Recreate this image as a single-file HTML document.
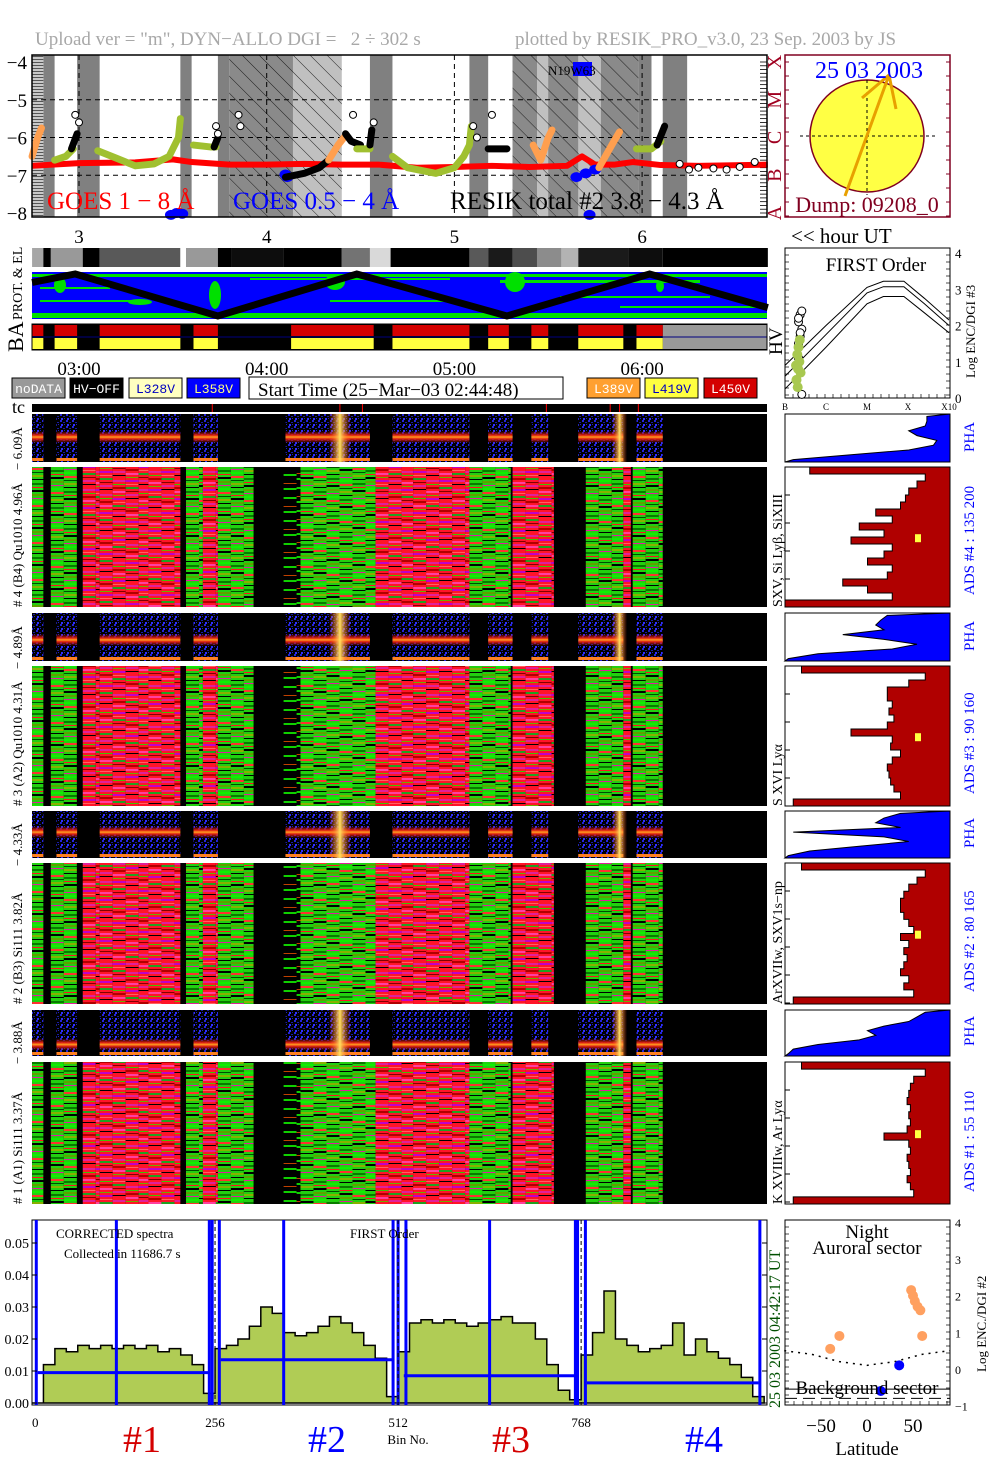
<!DOCTYPE html>
<html><head><meta charset="utf-8"><title>RESIK quicklook</title>
<style>
html,body{margin:0;padding:0;background:#fff;}
svg{display:block;font-family:"Liberation Serif",serif;}
.mono{font-family:"Liberation Mono",monospace;}
</style></head>
<body>
<svg id="root" width="1004" height="1477" viewBox="0 0 1004 1477" xmlns="http://www.w3.org/2000/svg">
<defs id="defs"></defs>
<rect x="0" y="0" width="1004" height="1477" fill="#fff"/>
<text x="35" y="45" font-size="19" fill="#a8a8a8" xml:space="preserve" style="white-space:pre">Upload ver = "m", DYN−ALLO DGI =   2 ÷ 302 s</text>
<text x="515" y="45" font-size="19" fill="#a8a8a8">plotted by RESIK_PRO_v3.0, 23 Sep. 2003 by JS</text>
<g id="goes"></g>
<g id="sun"></g>
<g id="strips"></g>
<g id="legend"></g>
<g id="spec"></g>
<g id="right"></g>
<g id="bottom"></g>
<g id="lat"></g>
</svg>
<script>
// ---------- DATA ----------
const hourTicks = [3,4,5,6];
const hourLabels = ['3','4','5','6'];
const timeLabels = ['03:00','04:00','05:00','06:00'];
const goesYTicks = [-4,-5,-6,-7,-8];
const goesLongH = [2.75,3.0,3.3,3.5,3.6,3.8,4.0,4.2,4.4,4.6,4.8,5.0,5.2,5.4,5.6,5.68,5.75,5.85,5.95,6.1,6.3,6.67];
const goesLongV = [-6.75,-6.68,-6.66,-6.58,-6.65,-6.72,-6.72,-6.7,-6.72,-6.72,-6.8,-6.78,-6.75,-6.78,-6.75,-6.5,-6.72,-6.72,-6.65,-6.73,-6.75,-6.72];
const goesShortH = [3.49,3.52,3.55,4.1,4.11,5.65,5.7,5.75,5.72];
const goesShortV = [-8.05,-8.0,-8.02,-6.98,-7.05,-7.05,-6.95,-6.85,-8.05];
const darkBandsH0 = [2.81,2.99,3.54,3.74,4.55,5.08,5.31,5.50,5.98,6.11];
const darkBandsH1 = [2.87,3.11,3.60,3.80,4.67,5.18,5.44,5.66,6.05,6.24];
const hatchH0 = [3.80,4.14];
const hatchH1 = [4.14,4.40];
const hatch2H0 = [5.31,5.44,5.50,5.66,5.78];
const hatch2H1 = [5.44,5.50,5.66,5.78,5.98];
const resikSegs = [
 {c:'#ff9f4f',h:[2.75,2.78,2.80],v:[-6.5,-6.0,-5.75]},
 {c:'#a0c030',h:[2.87,2.93,2.97],v:[-6.6,-6.5,-6.3]},
 {c:'#000',h:[2.96,2.99],v:[-6.3,-5.9]},
 {c:'#a0c030',h:[3.10,3.20,3.30,3.40,3.48,3.53,3.54],v:[-6.35,-6.55,-6.75,-6.7,-6.5,-6.0,-5.5]},
 {c:'#a0c030',h:[3.61,3.70,3.73],v:[-6.2,-6.25,-6.25]},
 {c:'#000',h:[3.72,3.74],v:[-6.25,-6.0]},
 {c:'#000',h:[4.10,4.20,4.28,4.33],v:[-7.05,-6.95,-6.8,-6.6]},
 {c:'#ff9f4f',h:[4.33,4.38,4.42],v:[-6.6,-6.2,-5.95]},
 {c:'#000',h:[4.42,4.45,4.50],v:[-5.9,-6.1,-6.2]},
 {c:'#a0c030',h:[4.48,4.55],v:[-6.3,-6.3]},
 {c:'#000',h:[4.55,4.56],v:[-6.2,-5.8]},
 {c:'#a0c030',h:[4.67,4.75,4.90,5.00,5.05,5.08,5.09],v:[-6.5,-6.8,-6.95,-6.8,-6.5,-6.2,-5.7]},
 {c:'#000',h:[5.18,5.28],v:[-6.3,-6.3]},
 {c:'#ff9f4f',h:[5.42,5.46,5.50,5.52],v:[-6.2,-6.6,-6.0,-5.8]},
 {c:'#ff9f4f',h:[5.77,5.85,5.88],v:[-6.8,-6.1,-5.85]},
 {c:'#a0c030',h:[5.97,6.05,6.10],v:[-6.3,-6.3,-6.1]},
 {c:'#000',h:[6.08,6.12],v:[-6.2,-5.7]}
];
const circH = [2.98,3.0,3.73,3.74,3.85,3.86,4.46,4.57,5.10,5.12,5.20,6.20,6.25,6.30,6.38,6.45,6.52,6.60];
const circV = [-5.4,-5.6,-5.7,-5.9,-5.4,-5.7,-5.4,-5.6,-5.7,-6.0,-5.4,-6.7,-6.85,-6.8,-6.82,-6.85,-6.78,-6.65];
const grayStripH0 = [2.75,2.81,2.85,3.02,3.11,3.54,3.57,3.74,3.81,4.09,4.40,4.55,4.66,5.08,5.18,5.31,5.44,5.57,5.66,5.93,6.11];
const grayStripH1 = [2.81,2.85,3.02,3.11,3.54,3.57,3.74,3.81,4.09,4.40,4.55,4.66,5.08,5.18,5.31,5.44,5.57,5.66,5.93,6.11,6.67];
const grayStripV = [0.65,0,0.6,0,0.35,1,0.6,0,0.05,0,0.45,0.85,0,0.35,0.1,0.3,0.55,0.7,0.1,0.05,0];
const orbitH = [2.75,2.98,3.74,4.48,5.28,6.04,6.67];
const orbitY = [0.2,0.0,1.0,0.0,1.0,0.0,0.8];
const baH0 = [2.75,2.87,3.11,3.61,4.13,4.67,5.18,5.41,5.66,5.97];
const baH1 = [2.81,2.99,3.54,3.74,4.57,5.08,5.29,5.50,5.90,6.11];
const tcH = [3.71,4.39,4.51,5.49,5.83,5.88,5.98];
const mainSegH0 = [2.75,2.85,3.02,3.11,3.37,3.57,3.66,3.74,4.09,4.18,4.58,4.78,5.08,5.31,5.70,5.90,5.95];
const mainSegH1 = [2.81,2.99,3.11,3.37,3.54,3.66,3.74,3.93,4.18,4.58,4.78,5.08,5.30,5.53,5.90,5.94,6.11];
const mainSegT = ['g','g','r','r','r','g','r','g','s','g','r','r','g','r','g','r','g'];
const phaSegH0 = [2.75,2.88,3.11,3.61,4.10,4.67,5.18,5.41,5.66,5.97];
const phaSegH1 = [2.81,2.99,3.54,3.74,4.55,5.08,5.31,5.50,5.90,6.11];
const phaBand = [0.48,0.56,0.45,0.75];
const panelTops = [414,613,811,1010];
const mainTops = [467,666,863,1062];
const mainBots = [607,806,1004,1204];
const phaBots = [462,661,858,1056];
const rightPha = [
 [0.86,0.86,0.85,0.75,0.80,0.92,0.90,0.75,0.40,0.05],
 [0.62,0.58,0.55,0.60,0.35,0.60,0.80,0.65,0.20,0.02],
 [0.70,0.60,0.55,0.70,0.05,0.60,0.75,0.45,0.15,0.02],
 [0.85,0.80,0.75,0.60,0.50,0.55,0.45,0.20,0.05,0.02]];
const rightMain = [
 [0.15,0.85,0.80,0.75,0.73,0.70,0.55,0.65,0.45,0.60,0.40,0.65,0.60,0.50,0.65,0.62,0.35,0.50,0.65,0.0],
 [0.10,0.85,0.75,0.62,0.62,0.65,0.63,0.66,0.62,0.40,0.65,0.64,0.70,0.65,0.62,0.63,0.64,0.66,0.70,0.05],
 [0.10,0.85,0.80,0.75,0.72,0.70,0.70,0.72,0.75,0.78,0.70,0.75,0.72,0.74,0.72,0.70,0.75,0.72,0.78,0.05],
 [0.10,0.85,0.78,0.76,0.75,0.74,0.76,0.75,0.76,0.74,0.60,0.75,0.76,0.74,0.75,0.76,0.74,0.76,0.78,0.05]];
const hvX = [0,1.0,2.0,2.4,2.9,3.4,4.0];
const hvTop = [0.9,2.0,3.05,3.22,3.22,2.75,2.15];
const hvMid = [0.6,1.75,2.9,3.07,3.07,2.6,2.0];
const hvBot = [0.25,1.4,2.6,2.8,2.8,2.35,1.8];
const hvPtsX = [0.28,0.32,0.35,0.3,0.38,0.33,0.27,0.36,0.31];
const hvPtsY = [0.5,0.8,1.0,1.2,0.7,1.4,0.9,1.6,0.3];
const hvCircY = [1.5,1.7,1.9,2.1,2.3,2.4,2.2,1.8,0.1,1.1];
const specCh = [
 [0.0,0.012,0.017,0.016,0.018,0.017,0.018,0.017,0.018,0.017,0.018,0.016,0.017,0.015,0.012,0.003],
 [0.017,0.018,0.020,0.024,0.030,0.028,0.022,0.021,0.022,0.024,0.027,0.025,0.022,0.018,0.014,0.002],
 [0.016,0.025,0.026,0.025,0.026,0.025,0.024,0.025,0.026,0.027,0.025,0.025,0.020,0.012,0.004,0.001],
 [0.015,0.022,0.035,0.020,0.018,0.016,0.017,0.018,0.025,0.015,0.020,0.016,0.014,0.012,0.008,0.002]];
const blueLevel = [0.0095,0.0135,0.0085,0.0063];
const blueSpikes = [6,118,248,252,262,352,505,512,523,640,760,763,774,1018];
const binTicks = [0,256,512,768];
const specYTicks = [0,0.01,0.02,0.03,0.04,0.05];
const specYLabels = ['0.00','0.01','0.02','0.03','0.04','0.05'];
const latOrX = [-40,-30,48,50,52,55,58,60];
const latOrY = [0.55,0.9,2.15,2.0,1.85,1.7,1.6,0.9];
const latBlX = [35,15];
const latBlY = [0.1,-0.6];
const latCurveX = [-90,-60,-30,0,30,60,90];
const latCurveY = [0.5,0.4,0.2,0.1,0.2,0.4,0.5];

// ---------- HELPERS ----------
const NS='http://www.w3.org/2000/svg';
const X = h => 79 + (h-3)*187.7;
const GY = v => 62 + (-4-v)*37.75;
function add(parent, tag, attrs, name, txt){
  const el=document.createElementNS(NS,tag);
  for(const k in attrs) el.setAttribute(k,attrs[k]);
  
  
  if(txt!==undefined) el.textContent=txt;
  parent.appendChild(el);
  return el;
}
const $=id=>document.getElementById(id);
const defs=$('defs');

defs.innerHTML = `
<pattern id="hatch" width="12" height="12" patternUnits="userSpaceOnUse" patternTransform="rotate(-45)"><line x1="0" y1="0" x2="0" y2="12" stroke="#000" stroke-width="0.8"/></pattern>
<pattern id="hstripe" width="4" height="3" patternUnits="userSpaceOnUse"><rect width="4" height="3" fill="#c8c8c8"/><rect y="2" width="4" height="1" fill="#555"/></pattern>
` + [0,1,2,3,4].map(i=>`
<pattern id="pr${i}" width="10" height="41" patternUnits="userSpaceOnUse" patternTransform="translate(0,${i*9})">
<rect width="10" height="41" fill="#ff1428"/><rect y="2" width="10" height="2" fill="#e0209a"/><rect y="6" width="10" height="1" fill="#40c000"/><rect y="9" width="10" height="2" fill="#b00000"/><rect y="13" width="10" height="2" fill="#ff3fa0"/><rect y="17" width="10" height="1" fill="#70a800"/><rect y="20" width="10" height="2" fill="#c000c8"/><rect y="24" width="10" height="1" fill="#ff6060"/><rect y="27" width="10" height="2" fill="#20a020"/><rect y="31" width="10" height="1" fill="#800000"/><rect y="34" width="10" height="2" fill="#e0209a"/><rect y="38" width="10" height="1" fill="#000"/></pattern>
<pattern id="pg${i}" width="10" height="37" patternUnits="userSpaceOnUse" patternTransform="translate(0,${i*8})">
<rect width="10" height="37" fill="#22d010"/><rect y="2" width="10" height="2" fill="#0a7a00"/><rect y="6" width="10" height="1" fill="#ff1020"/><rect y="9" width="10" height="2" fill="#000"/><rect y="13" width="10" height="2" fill="#60a000"/><rect y="17" width="10" height="1" fill="#e0209a"/><rect y="20" width="10" height="2" fill="#10f000"/><rect y="24" width="10" height="2" fill="#ff3030"/><rect y="28" width="10" height="1" fill="#004d00"/><rect y="31" width="10" height="2" fill="#88b000"/><rect y="35" width="10" height="1" fill="#000"/></pattern>
<pattern id="ps${i}" width="10" height="23" patternUnits="userSpaceOnUse" patternTransform="translate(0,${i*5})">
<rect width="10" height="23" fill="#000"/><rect y="4" width="10" height="2" fill="#10d000"/><rect y="13" width="10" height="1" fill="#c04000"/><rect y="18" width="10" height="2" fill="#10d000"/></pattern>`).join('') + `
<pattern id="pha" width="6" height="6" patternUnits="userSpaceOnUse"><rect width="6" height="6" fill="#000"/><rect x="0" y="0" width="2" height="2" fill="#2424d8"/><rect x="3" y="2" width="2" height="1" fill="#1a1aa0"/><rect x="1" y="4" width="2" height="2" fill="#3030ff"/><rect x="4" y="4" width="1" height="1" fill="#2020c0"/></pattern>
<linearGradient id="band" x1="0" y1="0" x2="0" y2="1"><stop offset="0" stop-color="#c01010" stop-opacity="0"/><stop offset="0.35" stop-color="#e02010"/><stop offset="0.5" stop-color="#ffa020"/><stop offset="0.65" stop-color="#e02010"/><stop offset="1" stop-color="#c01010" stop-opacity="0"/></linearGradient>
<linearGradient id="flare" x1="0" y1="0" x2="1" y2="0"><stop offset="0" stop-color="#ff4010" stop-opacity="0"/><stop offset="0.5" stop-color="#ffe060"/><stop offset="1" stop-color="#ff4010" stop-opacity="0"/></linearGradient>`;

// ---------- GOES PANEL ----------
(function(){
  const g=$('goes');
  const L=32,R=767,T=55,B=217;
  for(let i=0;i<darkBandsH0.length;i++){
    add(g,'rect',{x:X(darkBandsH0[i]),y:T,width:X(darkBandsH1[i])-X(darkBandsH0[i]),height:B-T,fill:'#808080'},'hv-off-band');
  }
  add(g,'rect',{x:L,y:T,width:X(2.81)-L,height:B-T,fill:'url(#hstripe)'},'nodata-band');
  for(let i=0;i<hatchH0.length;i++){
    add(g,'rect',{x:X(hatchH0[i]),y:T,width:X(hatchH1[i])-X(hatchH0[i]),height:B-T,fill:i==0?'#8a8a8a':'#c0c0c0'},'saa-band');
  }
  for(let i=0;i<hatch2H0.length;i++){
    add(g,'rect',{x:X(hatch2H0[i]),y:T,width:X(hatch2H1[i])-X(hatch2H0[i]),height:B-T,fill:i%2?'#c0c0c0':'#8a8a8a'},'saa-band');
  }
  add(g,'rect',{x:X(3.80),y:T,width:X(4.40)-X(3.80),height:B-T,fill:'url(#hatch)'},'hatch-area');
  add(g,'rect',{x:X(5.31),y:T,width:X(5.98)-X(5.31),height:B-T,fill:'url(#hatch)'},'hatch-area');
  hourTicks.forEach(h=>add(g,'line',{x1:X(h),x2:X(h),y1:T,y2:B,stroke:'#000','stroke-dasharray':'5,4','stroke-width':1},'x-grid-line'));
  [-5,-6,-7].forEach(v=>add(g,'line',{x1:L,x2:R,y1:GY(v),y2:GY(v),stroke:'#000','stroke-dasharray':'5,4','stroke-width':1},'y-grid-line'));
  goesYTicks.forEach(v=>add(g,'text',{x:27,y:GY(v)+7,'font-size':19,'text-anchor':'end'},'y-tick-label',String(v).replace('-','−')));
  for(let v=-8;v<=-4;v+=0.1){add(g,'line',{x1:R-7,x2:R,y1:GY(v),y2:GY(v),stroke:'#000','stroke-width':0.8},'y-minor-tick');}
  add(g,'polyline',{points:goesLongH.map((h,i)=>X(h)+','+GY(goesLongV[i])).join(' '),fill:'none',stroke:'#ff0000','stroke-width':6,'stroke-linejoin':'round'},'goes-1-8-line');
  goesShortH.forEach((h,i)=>add(g,'ellipse',{cx:X(h),cy:GY(goesShortV[i]),rx:6,ry:5,fill:'#0000ff'},'goes-05-4-point'));
  resikSegs.forEach(s=>{
    add(g,'polyline',{points:s.h.map((h,i)=>X(h)+','+GY(s.v[i])).join(' '),fill:'none',stroke:s.c,'stroke-width':7,'stroke-linejoin':'round','stroke-linecap':'round'},'resik-total-segment');
  });
  circH.forEach((h,i)=>add(g,'circle',{cx:X(h),cy:GY(circV[i]),r:3.5,fill:'#fff',stroke:'#000','stroke-width':1},'resik-circle'));
  add(g,'rect',{x:L,y:T,width:R-L,height:B-T,fill:'none',stroke:'#000','stroke-width':1.5},'goes-frame');
  add(g,'rect',{x:573,y:62,width:19,height:14,fill:'#0000ff'},'active-region-box');
  add(g,'text',{x:548,y:75,'font-size':13},'active-region-label','N19W63');
  add(g,'text',{x:47,y:209,'font-size':25,fill:'#ff0000'},'goes-long-label','GOES 1 − 8 Å');
  add(g,'text',{x:233,y:209,'font-size':25,fill:'#0000ff'},'goes-short-label','GOES 0.5 − 4 Å');
  add(g,'text',{x:450,y:209,'font-size':25,fill:'#000'},'resik-total-label','RESIK total #2  3.8 − 4.3 Å');
  ['A','B','C','M','X'].forEach((c,i)=>{
    const yy=GY(-8+i);
    add(g,'text',{x:0,y:0,'font-size':20,fill:'#a00020',transform:`translate(781,${yy}) rotate(-90)`,'text-anchor':'middle'},'goes-class-label',c);
  });
  hourTicks.forEach((h,i)=>add(g,'text',{x:X(h),y:243,'font-size':19,'text-anchor':'middle'},'hour-label',hourLabels[i]));
  add(g,'text',{x:791,y:243,'font-size':21},'hour-ut-label','<< hour UT');
})();

// ---------- SUN ----------
(function(){
  const g=$('sun');
  add(g,'rect',{x:785,y:55,width:165,height:162,fill:'#fff',stroke:'#800020','stroke-width':1.5},'sun-frame');
  for(let y=62;y<217;y+=14){add(g,'line',{x1:785,x2:789,y1:y,y2:y,stroke:'#800020'},'sun-tick');add(g,'line',{x1:946,x2:950,y1:y,y2:y,stroke:'#800020'},'sun-tick');}
  add(g,'ellipse',{cx:867,cy:136,rx:57,ry:56,fill:'#ffff44',stroke:'#800020','stroke-width':1.5},'solar-disk');
  add(g,'line',{x1:800,x2:935,y1:136,y2:136,stroke:'#000','stroke-dasharray':'3,3'},'sun-crosshair-h');
  add(g,'line',{x1:867,x2:867,y1:80,y2:195,stroke:'#000','stroke-dasharray':'3,3'},'sun-crosshair-v');
  [[845,196,889,75],[889,75,862,98],[889,75,896,109]].forEach(p=>add(g,'line',{x1:p[0],y1:p[1],x2:p[2],y2:p[3],stroke:'#e8a000','stroke-width':3},'track-line'));
  add(g,'text',{x:869,y:78,'font-size':24,fill:'#0000ff','text-anchor':'middle'},'sun-date','25 03 2003');
  add(g,'text',{x:867,y:212,'font-size':22,fill:'#800020','text-anchor':'middle'},'dump-label','Dump: 09208_0');
})();

// ---------- STRIPS ----------
(function(){
  const g=$('strips');
  for(let i=0;i<grayStripH0.length;i++){
    const v=Math.round(grayStripV[i]*255);
    add(g,'rect',{x:X(grayStripH0[i]),y:248,width:X(grayStripH1[i])-X(grayStripH0[i]),height:19,fill:`rgb(${v},${v},${v})`},'elevation-strip-segment');
  }
  add(g,'rect',{x:32,y:272,width:735,height:47,fill:'#0000ff'},'prot-el-strip');
  [[32,274,735,3],[32,313,735,5],[40,287,70,2],[250,278,200,2],[500,280,200,3],[560,296,150,2],[330,300,120,2],[620,306,140,2],[40,300,100,2]].forEach(r=>add(g,'rect',{x:r[0],y:r[1],width:r[2],height:r[3],fill:'#00e000'},'particle-band'));
  [[60,285,6,8],[140,302,12,3],[215,295,6,14],[335,282,10,8],[515,282,10,10],[660,286,4,6]].forEach(r=>add(g,'ellipse',{cx:r[0],cy:r[1],rx:r[2],ry:r[3],fill:'#00e000'},'particle-blob'));
  add(g,'polyline',{points:orbitH.map((h,i)=>X(h)+','+(274+orbitY[i]*42)).join(' '),fill:'none',stroke:'#000','stroke-width':7},'orbit-track');
  add(g,'text',{x:0,y:0,'font-size':14,transform:'translate(22,320) rotate(-90)'},'prot-el-label','PROT. & EL');
  add(g,'rect',{x:32,y:324,width:735,height:26,fill:'#000'},'ba-strip');
  add(g,'rect',{x:X(6.11),y:325,width:767-X(6.11),height:24,fill:'#999'},'ba-nodata');
  for(let i=0;i<baH0.length;i++){
    const x=X(baH0[i]),w=X(baH1[i])-X(baH0[i]);
    add(g,'rect',{x:x,y:325,width:w,height:11,fill:'#d40000'},'ba-red-segment');
    add(g,'rect',{x:x,y:338,width:w,height:11,fill:'#ffff40'},'ba-yellow-segment');
  }
  add(g,'line',{x1:32,x2:767,y1:337,y2:337,stroke:'#000080','stroke-width':1},'ba-divider');
  add(g,'rect',{x:32,y:324,width:735,height:26,fill:'none',stroke:'#000'},'ba-frame');
  add(g,'text',{x:0,y:0,'font-size':22,transform:'translate(23,352) rotate(-90)'},'ba-label','BA');
  hourTicks.forEach((h,i)=>add(g,'text',{x:X(h),y:375,'font-size':19,'text-anchor':'middle'},'time-label',timeLabels[i]));
})();

// ---------- LEGEND ----------
(function(){
  const g=$('legend');
  const items=[[12,'#999','#fff','noDATA'],[70,'#000','#fff','HV−OFF'],[129,'#ffffc0','#0000c0','L328V'],[187,'#0000ff','#ffff80','L358V'],[587,'#ffa030','#fff','L389V'],[645,'#ffff40','#0000c0','L419V'],[704,'#d40000','#fff','L450V']];
  items.forEach(it=>{
    add(g,'rect',{x:it[0],y:378,width:53,height:20,fill:it[1],stroke:'#000'},'legend-box');
    add(g,'text',{x:it[0]+26.5,y:393,'font-size':13,fill:it[2],'text-anchor':'middle',class:'mono'},'legend-label',it[3]);
  });
  add(g,'rect',{x:249,y:377,width:314,height:22,fill:'#fff',stroke:'#000'},'start-time-box');
  add(g,'text',{x:258,y:396,'font-size':19},'start-time-label','Start Time (25−Mar−03 02:44:48)');
  add(g,'text',{x:12,y:413,'font-size':18},'tc-label','tc');
  add(g,'rect',{x:32,y:404,width:735,height:8,fill:'#000'},'tc-strip');
  tcH.forEach(h=>add(g,'line',{x1:X(h),x2:X(h),y1:404,y2:412,stroke:'#ff0000','stroke-width':1},'tc-mark'));
})();

// ---------- SPECTROGRAMS ----------
(function(){
  const g=$('spec');
  const leftLabels=['# 4 (B4) Qu1010 4.96Å','# 3 (A2) Qu1010 4.31Å','# 2 (B3) Si111 3.82Å','# 1 (A1) Si111 3.37Å'];
  const phaLabels=['− 6.09Å','− 4.89Å','− 4.33Å','− 3.88Å'];
  const rightLabels=['SXV, Si Lyβ, SiXIII','S XVI Lyα','ArXVIIw, SXV1s−np','K XVIIIw, Ar Lyα'];
  for(let p=0;p<4;p++){
    const t=panelTops[p],pb=phaBots[p];
    add(g,'rect',{x:32,y:t,width:735,height:pb-t,fill:'#000'},'pha-panel');
    for(let i=0;i<phaSegH0.length;i++){
      const x=X(phaSegH0[i]),w=X(phaSegH1[i])-x;
      add(g,'rect',{x:x,y:t,width:w,height:pb-t,fill:'url(#pha)'},'pha-segment');
      const by=t+(pb-t)*phaBand[p];
      add(g,'rect',{x:x,y:by-6,width:w,height:12,fill:'url(#band)'},'pha-line-band');
      add(g,'rect',{x:x,y:pb-4,width:w,height:3,fill:'#ff8020'},'pha-bottom-edge');
    }
    add(g,'rect',{x:X(4.33),y:t,width:X(4.45)-X(4.33),height:pb-t,fill:'url(#flare)'},'pha-flare');
    add(g,'rect',{x:X(5.84),y:t,width:X(5.92)-X(5.84),height:pb-t,fill:'url(#flare)'},'pha-flare');
    const mt=mainTops[p],mb=mainBots[p];
    add(g,'rect',{x:32,y:mt,width:735,height:mb-mt,fill:'#000'},'main-spectrogram');
    let col=0;
    for(let i=0;i<mainSegH0.length;i++){
      const x0=X(mainSegH0[i]),x1=X(mainSegH1[i]);
      for(let x=x0;x<x1-0.5;x+=13){
        const w=Math.min(13,x1-x);
        const pid='p'+mainSegT[i]+((col*3+p)%5);
        add(g,'rect',{x:x,y:mt,width:w,height:mb-mt,fill:`url(#${pid})`},'spectrogram-column');
        col++;
      }
    }
    add(g,'text',{x:0,y:0,'font-size':13,transform:`translate(22,${mb}) rotate(-90)`},'detector-label',leftLabels[p]);
    add(g,'text',{x:0,y:0,'font-size':13,transform:`translate(22,${pb+8}) rotate(-90)`},'pha-range-label',phaLabels[p]);
    add(g,'text',{x:0,y:0,'font-size':14,transform:`translate(782,${mb}) rotate(-90)`},'line-id-label',rightLabels[p]);
  }
})();

// ---------- RIGHT PANELS ----------
(function(){
  const g=$('right');
  const L=785,R=950,T=248,B=398;
  const hx=u=>L+u*41, hy=v=>B-v*36.25;
  add(g,'rect',{x:L,y:T,width:R-L,height:B-T,fill:'#fff',stroke:'#000'},'hv-plot-frame');
  for(let y=T;y<B;y+=7){add(g,'line',{x1:L,x2:L+4,y1:y,y2:y,stroke:'#000','stroke-width':0.7},'hv-tick');add(g,'line',{x1:R-4,x2:R,y1:y,y2:y,stroke:'#000','stroke-width':0.7},'hv-tick');}
  for(let x=L;x<R;x+=8){add(g,'line',{x1:x,x2:x,y1:B-4,y2:B,stroke:'#000','stroke-width':0.7},'hv-tick');}
  [hvTop,hvMid,hvBot].forEach(c=>add(g,'polyline',{points:hvX.map((u,i)=>hx(u)+','+hy(c[i])).join(' '),fill:'none',stroke:'#000','stroke-width':1},'hv-model-curve'));
  hvCircY.forEach((v,i)=>add(g,'circle',{cx:hx(0.33+(i%3)*0.04),cy:hy(v),r:4,fill:'#fff',stroke:'#000'},'hv-circle'));
  hvPtsX.forEach((u,i)=>add(g,'circle',{cx:hx(u),cy:hy(hvPtsY[i]),r:5,fill:'#a8c850'},'hv-point'));
  add(g,'text',{x:876,y:271,'font-size':19,'text-anchor':'middle'},'hv-title','FIRST Order');
  ['0','1','2','3','4'].forEach((s,i)=>add(g,'text',{x:955,y:hy(i)+5,'font-size':13},'hv-y-label',s));
  ['B','C','M','X','X10'].forEach((s,i)=>add(g,'text',{x:hx(i),y:410,'font-size':9,'text-anchor':'middle'},'hv-x-label',s));
  add(g,'text',{x:0,y:0,'font-size':13,transform:'translate(975,378) rotate(-90)'},'hv-y-title','Log ENC/DGI #3');
  add(g,'text',{x:0,y:0,'font-size':19,transform:'translate(782,355) rotate(-90)'},'hv-label','HV');
  const adsLabels=['ADS #4 :  135 200','ADS #3 :  90 160','ADS #2 :  80 165','ADS #1 :  55 110'];
  for(let p=0;p<4;p++){
    const t=panelTops[p],b=phaBots[p],w=R-L;
    add(g,'rect',{x:L,y:t,width:w,height:b-t,fill:'#fff',stroke:'#000'},'right-pha-frame');
    const pr=rightPha[p],n=pr.length;
    let pts=[`${R},${t}`];
    pr.forEach((f,i)=>{pts.push(`${L+f*w},${t+(i+0.5)*(b-t)/n}`);});
    pts.push(`${L},${b}`,`${R},${b}`);
    add(g,'polygon',{points:pts.join(' '),fill:'#0000ff',stroke:'#000','stroke-width':1},'pha-profile');
    add(g,'text',{x:0,y:0,'font-size':15,fill:'#0000ff',transform:`translate(974,${b-10}) rotate(-90)`},'pha-label','PHA');
    const mt=mainTops[p],mb=mainBots[p];
    add(g,'rect',{x:L,y:mt,width:w,height:mb-mt,fill:'#fff',stroke:'#000'},'right-spectrum-frame');
    const mr=rightMain[p],m=mr.length;
    let q=[`${R},${mt}`];
    mr.forEach((f,i)=>{const y0=mt+i*(mb-mt)/m,y1=mt+(i+1)*(mb-mt)/m;q.push(`${L+f*w},${y0}`,`${L+f*w},${y1}`);});
    q.push(`${R},${mb}`);
    add(g,'polygon',{points:q.join(' '),fill:'#b00000',stroke:'#000','stroke-width':1},'spectrum-profile');
    add(g,'rect',{x:915,y:mt+(mb-mt)*0.48,width:6,height:8,fill:'#ffff40'},'spectrum-marker');
    for(let y=mt;y<mb;y+=28){add(g,'line',{x1:L,x2:L+5,y1:y,y2:y,stroke:'#000'},'spectrum-tick');}
    add(g,'text',{x:0,y:0,'font-size':15,fill:'#0000ff',transform:`translate(974,${mb-12}) rotate(-90)`},'ads-label',adsLabels[p]);
  }
})();

// ---------- BOTTOM SPECTRUM ----------
(function(){
  const g=$('bottom');
  const L=32,R=767,T=1220,B=1405;
  const bx=b=>32+b*0.715, by=v=>1403-v*3200;
  add(g,'rect',{x:L,y:T,width:R-L,height:B-T,fill:'#fff',stroke:'#000'},'bottom-frame');
  let pts=[`${bx(0)},${by(0)}`];
  specCh.forEach((ch,c)=>ch.forEach((v,i)=>{const b0=c*256+i*16;pts.push(`${bx(b0)},${by(v)}`,`${bx(b0+16)},${by(v)}`);}));
  pts.push(`${bx(1024)},${by(0)}`);
  add(g,'polygon',{points:pts.join(' '),fill:'#b0cc55',stroke:'#000','stroke-width':1.5},'corrected-spectrum');
  blueLevel.forEach((v,c)=>add(g,'line',{x1:bx(c*256+8),x2:bx(c*256+248),y1:by(v),y2:by(v),stroke:'#0000ff','stroke-width':3},'background-spectrum'));
  blueSpikes.forEach(b=>add(g,'line',{x1:bx(b),x2:bx(b),y1:T,y2:B,stroke:'#0000ff','stroke-width':3},'background-spike'));
  [256,512,768].forEach(b=>add(g,'line',{x1:bx(b),x2:bx(b),y1:T,y2:B,stroke:'#000','stroke-dasharray':'4,3'},'channel-boundary'));
  specYTicks.forEach((v,i)=>{add(g,'text',{x:29,y:by(v)+5,'font-size':14,'text-anchor':'end'},'y-tick-label',specYLabels[i]);add(g,'line',{x1:L,x2:L+5,y1:by(v),y2:by(v),stroke:'#000'},'y-tick');add(g,'line',{x1:R-5,x2:R,y1:by(v),y2:by(v),stroke:'#000'},'y-tick');});
  binTicks.forEach(b=>add(g,'text',{x:bx(b),y:1427,'font-size':13,'text-anchor':b?'middle':'start'},'bin-tick-label',String(b)));
  add(g,'text',{x:408,y:1444,'font-size':13,'text-anchor':'middle'},'x-axis-title','Bin No.');
  add(g,'text',{x:56,y:1238,'font-size':13},'corrected-label','CORRECTED spectra');
  add(g,'text',{x:64,y:1258,'font-size':13},'collected-label','Collected in 11686.7 s');
  add(g,'text',{x:350,y:1238,'font-size':13},'first-order-label','FIRST Order');
  [['#1',142,'#d40000'],['#2',327,'#0000ff'],['#3',511,'#d40000'],['#4',704,'#0000ff']].forEach(a=>add(g,'text',{x:a[1],y:1452,'font-size':38,fill:a[2],'text-anchor':'middle'},'channel-number',a[0]));
  add(g,'text',{x:0,y:0,'font-size':16,fill:'#005000',transform:'translate(780,1408) rotate(-90)'},'timestamp-label','25 03 2003   04:42:17 UT');
})();

// ---------- LATITUDE ----------
(function(){
  const g=$('lat');
  const L=785,R=950,T=1220,B=1405;
  const lx=d=>867+d*0.92, ly=v=>1369-v*36.7;
  add(g,'rect',{x:L,y:T,width:R-L,height:B-T,fill:'#fff',stroke:'#000'},'lat-frame');
  for(let y=T;y<B;y+=7){add(g,'line',{x1:R-4,x2:R,y1:y,y2:y,stroke:'#000','stroke-width':0.7},'lat-tick');add(g,'line',{x1:L,x2:L+4,y1:y,y2:y,stroke:'#000','stroke-width':0.7},'lat-tick');}
  for(let x=L;x<R;x+=9){add(g,'line',{x1:x,x2:x,y1:B-4,y2:B,stroke:'#000','stroke-width':0.7},'lat-tick');}
  add(g,'polyline',{points:latCurveX.map((d,i)=>lx(d)+','+ly(latCurveY[i])).join(' '),fill:'none',stroke:'#000','stroke-dasharray':'2,5','stroke-width':1.5},'auroral-boundary');
  add(g,'line',{x1:L,x2:R,y1:ly(-0.8),y2:ly(-0.8),stroke:'#000','stroke-dasharray':'12,6'},'background-boundary');
  add(g,'line',{x1:L,x2:R,y1:ly(-0.55),y2:ly(-0.55),stroke:'#000'},'background-line');
  latOrX.forEach((d,i)=>add(g,'circle',{cx:lx(d),cy:ly(latOrY[i]),r:5,fill:'#ffa060'},'auroral-point'));
  latBlX.forEach((d,i)=>add(g,'circle',{cx:lx(d),cy:ly(latBlY[i]),r:5,fill:'#0000ff'},'background-point'));
  add(g,'text',{x:867,y:1238,'font-size':19,'text-anchor':'middle'},'night-label','Night');
  add(g,'text',{x:867,y:1254,'font-size':19,'text-anchor':'middle'},'auroral-label','Auroral sector');
  add(g,'text',{x:867,y:1394,'font-size':19,'text-anchor':'middle'},'background-label','Background sector');
  ['4','3','2','1','0','−1'].forEach((s,i)=>add(g,'text',{x:955,y:ly(4-i)+5,'font-size':12},'lat-y-label',s));
  [['−50',-50],['0',0],['50',50]].forEach(a=>add(g,'text',{x:lx(a[1]),y:1432,'font-size':19,'text-anchor':'middle'},'lat-x-label',a[0]));
  add(g,'text',{x:867,y:1455,'font-size':19,'text-anchor':'middle'},'lat-x-title','Latitude');
  add(g,'text',{x:0,y:0,'font-size':13,transform:'translate(986,1372) rotate(-90)'},'lat-y-title','Log ENC./DGI #2');
})();
</script>
</body></html>
